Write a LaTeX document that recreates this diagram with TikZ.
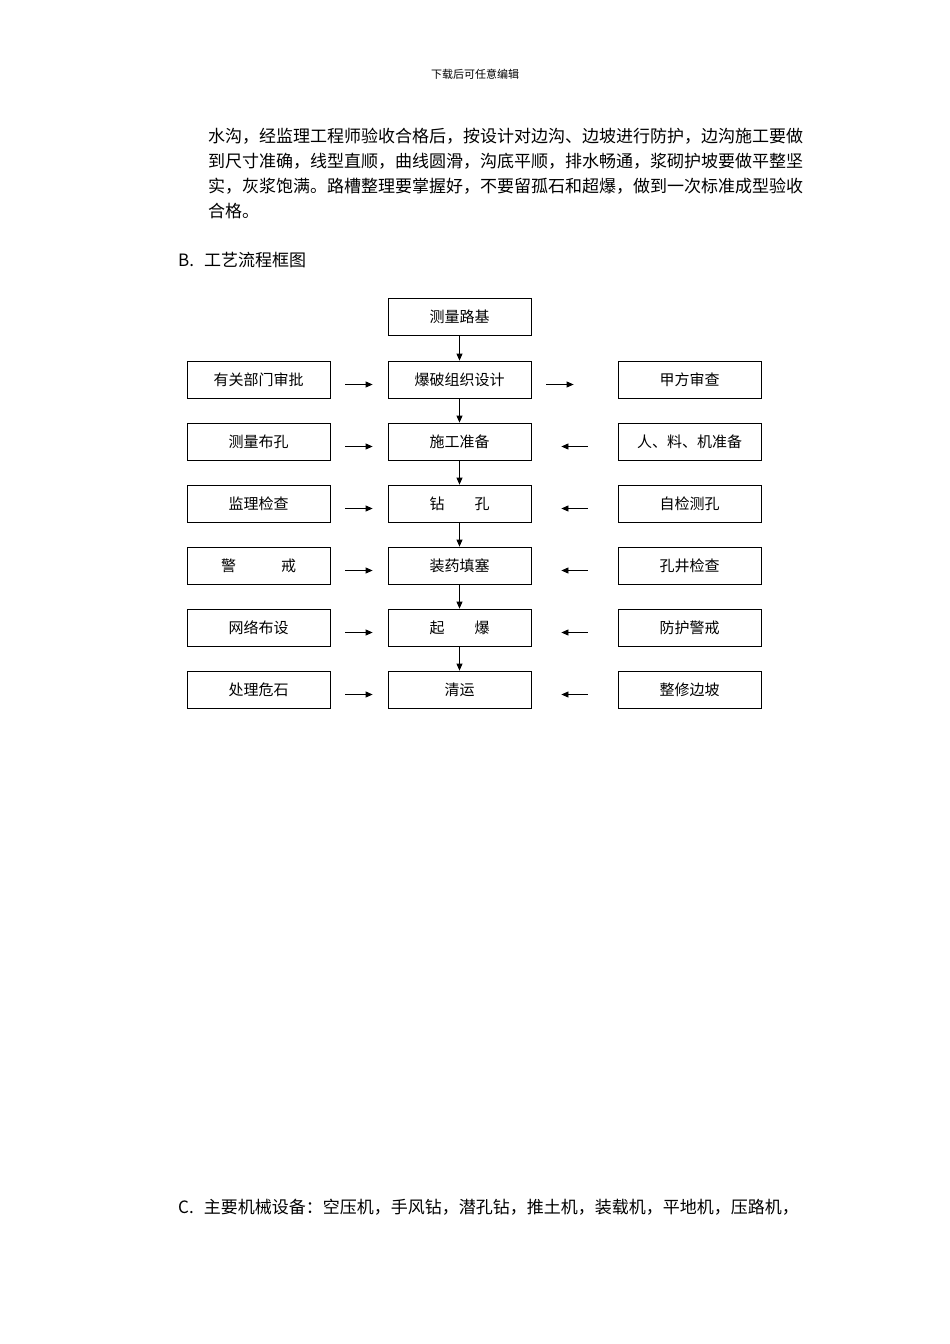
\documentclass[tikz,border=0pt]{standalone}
\usepackage{fontspec}
\setmainfont{Liberation Serif}
\newfontfamily\cjk{Noto Sans CJK SC}
\usetikzlibrary{arrows.meta}
\begin{document}
\begin{tikzpicture}[x=1pt,y=-1pt,
  box/.style={draw,line width=0.8pt,minimum width=143pt,minimum height=37pt,inner sep=0pt,font=\cjk\fontsize{15}{18}\selectfont},
  arr/.style={-{Triangle[length=7pt,width=6pt]},line width=0.8pt},
  para/.style={anchor=west,inner sep=0pt,font=\cjk\fontsize{17}{20}\selectfont}]
\useasboundingbox (0,0) rectangle (950,1344);
\node[font=\cjk\fontsize{11}{13}\selectfont] (hdr) at (475,74) {下载后可任意编辑};
\node[para] (p1) at (208,136) {水沟，经监理工程师验收合格后，按设计对边沟、边坡进行防护，边沟施工要做};
\node[para] (p2) at (208,161) {到尺寸准确，线型直顺，曲线圆滑，沟底平顺，排水畅通，浆砌护坡要做平整坚};
\node[para] (p3) at (208,186) {实，灰浆饱满。路槽整理要掌握好，不要留孤石和超爆，做到一次标准成型验收};
\node[para] (p4) at (208,211) {合格。};
\node[para] (tb) at (178,260) {B.\hspace{10pt}{\cjk 工艺流程框图}};
\node[para] (tc) at (178,1207) {C.\hspace{10pt}{\cjk 主要机械设备：空压机，手风钻，潜孔钻，推土机，装载机，平地机，压路机，}};
% center column
\node[box] (c0) at (459.5,317) {测量路基};
\node[box] (c1) at (459.5,379.5) {爆破组织设计};
\node[box] (c2) at (459.5,441.5) {施工准备};
\node[box] (c3) at (459.5,503.5) {钻\hspace{2em}孔};
\node[box] (c4) at (459.5,565.5) {装药填塞};
\node[box] (c5) at (459.5,627.5) {起\hspace{2em}爆};
\node[box] (c6) at (459.5,689.5) {清运};
% left
\node[box] (l1) at (258.5,379.5) {有关部门审批};
\node[box] (l2) at (258.5,441.5) {测量布孔};
\node[box] (l3) at (258.5,503.5) {监理检查};
\node[box] (l4) at (258.5,565.5) {警\hspace{3em}戒};
\node[box] (l5) at (258.5,627.5) {网络布设};
\node[box] (l6) at (258.5,689.5) {处理危石};
% right
\node[box] (r1) at (689.5,379.5) {甲方审查};
\node[box] (r2) at (689.5,441.5) {人、料、机准备};
\node[box] (r3) at (689.5,503.5) {自检测孔};
\node[box] (r4) at (689.5,565.5) {孔井检查};
\node[box] (r5) at (689.5,627.5) {防护警戒};
\node[box] (r6) at (689.5,689.5) {整修边坡};
\foreach \a/\b in {c0/c1,c1/c2,c2/c3,c3/c4,c4/c5,c5/c6}
  \draw[arr] (\a.south) -- (\b.north);
\foreach \i in {1,...,6}{
  \draw[arr] ([xshift=15pt,yshift=-5pt]l\i.east) -- ([xshift=-15pt,yshift=-5pt]c\i.west);
}
\draw[arr] ([xshift=15pt,yshift=-5pt]c1.east) -- ([xshift=-44pt,yshift=-5pt]r1.west);
\foreach \i in {2,...,6}{
  \draw[arr] ([xshift=-30pt,yshift=-5pt]r\i.west) -- ([xshift=30pt,yshift=-5pt]c\i.east);
}
\end{tikzpicture}
\end{document}
